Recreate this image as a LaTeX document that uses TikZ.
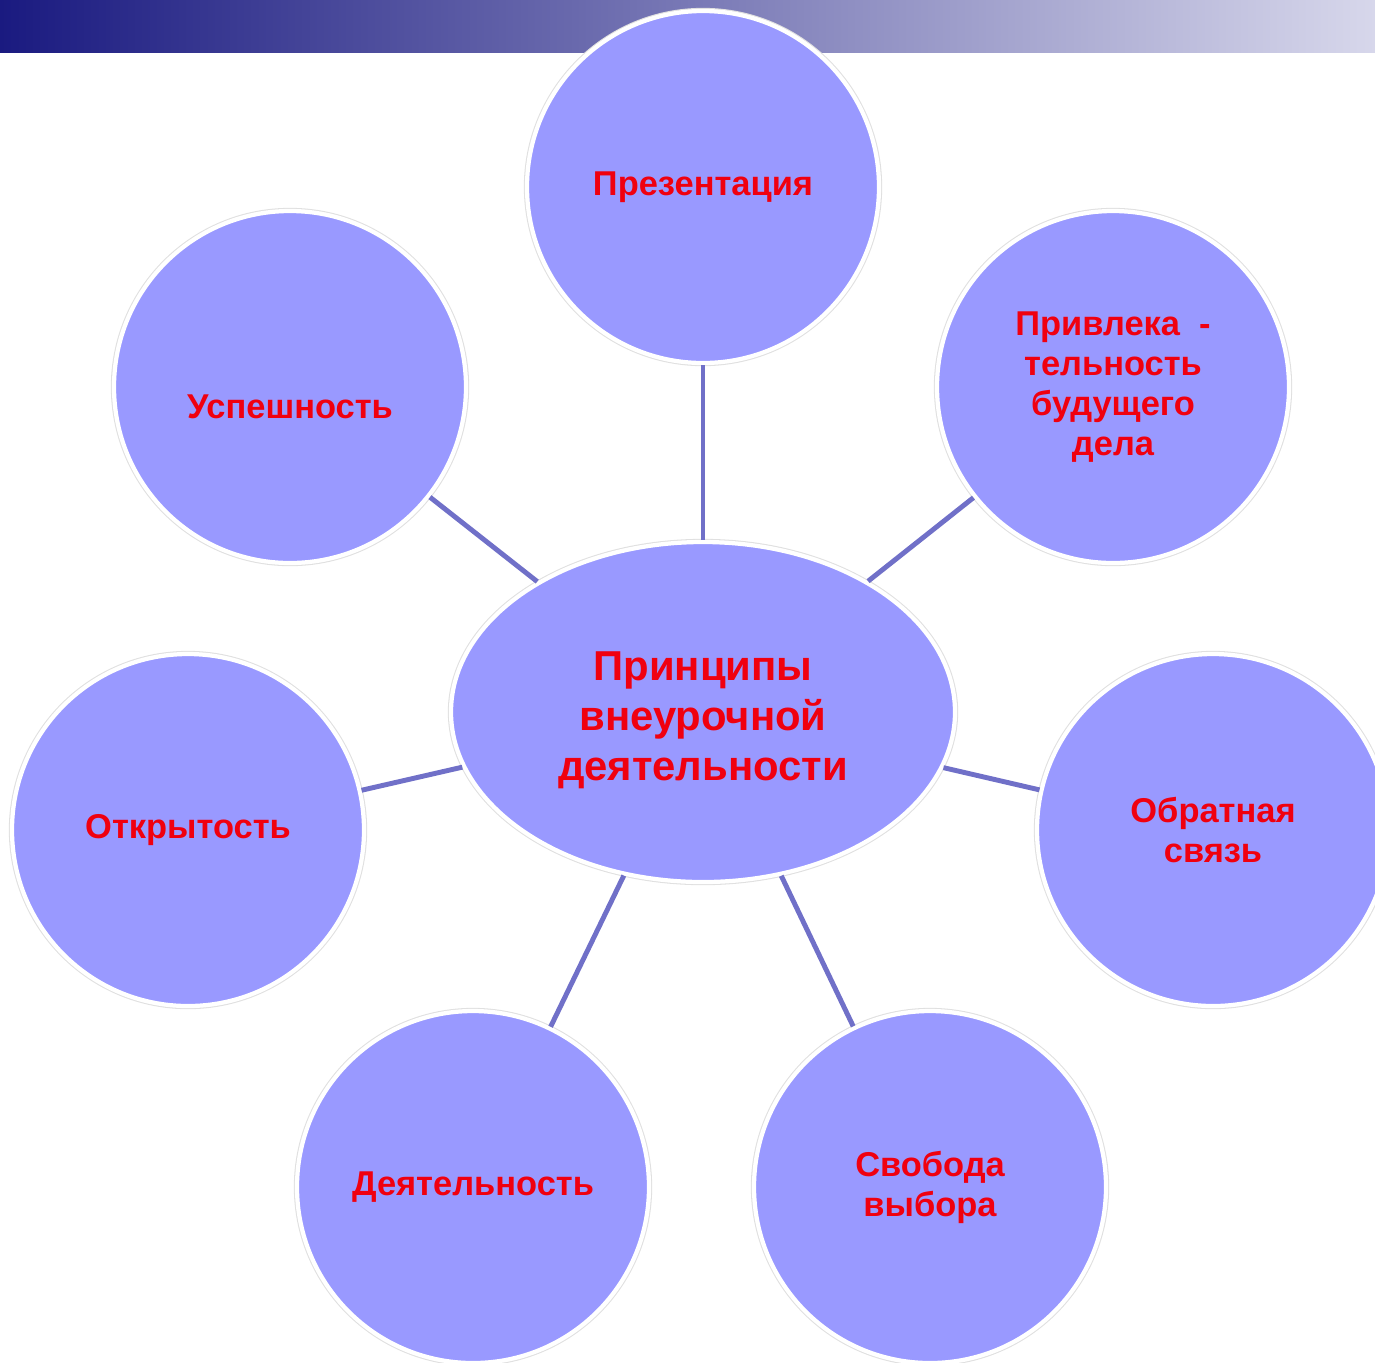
\documentclass[tikz,border=0pt]{standalone}
\usepackage{fontspec}
\setmainfont{Liberation Sans}
\usetikzlibrary{shapes.geometric}

\definecolor{krugfill}{RGB}{153,153,255}
\definecolor{liniya}{RGB}{112,112,200}
\definecolor{krasny}{RGB}{240,0,15}
\definecolor{polosaL}{RGB}{26,26,128}
\definecolor{polosaR}{RGB}{215,215,235}

\begin{document}
\begin{tikzpicture}[
	krug/.style={circle, minimum size=3.52cm, inner sep=0pt, fill=krugfill,
		draw=white, line width=1.2pt,
		preaction={draw=black!12, line width=1.8pt},
		text=krasny, align=center,
		font=\fontsize{9.8}{11.4}\selectfont\bfseries},
	centr/.style={ellipse, minimum width=5.04cm, minimum height=3.40cm,
		inner sep=0pt, fill=krugfill, draw=white, line width=1.2pt,
		preaction={draw=black!12, line width=1.8pt}},
	nadpis/.style={text=krasny, align=center,
		font=\fontsize{11.9}{14.2}\selectfont\bfseries},
	svyaz/.style={draw=liniya, line width=1.4pt}
	]
	
	\useasboundingbox (0,0) rectangle (13.75,-13.62);
	
	% polosa sverhu
	\shade[left color=polosaL, right color=polosaR] (0,0) rectangle (13.75,-0.52);
	
	\node[centr, label={[nadpis, yshift=-0.08cm]center:Принципы\\внеурочной\\деятельности}] (princ) at (7.03,-7.12) {};
	
	\node[krug] (prez) at (7.03,-1.87) {Презентация};
	\node[krug, label={[text=krasny, font=\fontsize{9.8}{11.4}\selectfont\bfseries, yshift=-0.2cm]center:Успешность}] (usp) at (2.90,-3.87) {};
	\node[krug] (privl) at (11.13,-3.87) {Привлека~~-\\тельность\\будущего\\дела};
	\node[krug] (otkr) at (1.88,-8.30) {Открытость};
	\node[krug] (obr) at (12.13,-8.30) {Обратная\\связь};
	\node[krug] (deyat) at (4.73,-11.87) {Деятельность};
	\node[krug] (svob) at (9.30,-11.87) {Свобода\\выбора};
	
	% svyazi
	\draw[svyaz] (princ) -- (prez);
	\draw[svyaz] (princ) -- (usp);
	\draw[svyaz] (princ) -- (privl);
	\draw[svyaz] (princ) -- (otkr);
	\draw[svyaz] (princ) -- (obr);
	\draw[svyaz] (princ) -- (deyat);
	\draw[svyaz] (princ) -- (svob);
	
\end{tikzpicture}
\end{document}
